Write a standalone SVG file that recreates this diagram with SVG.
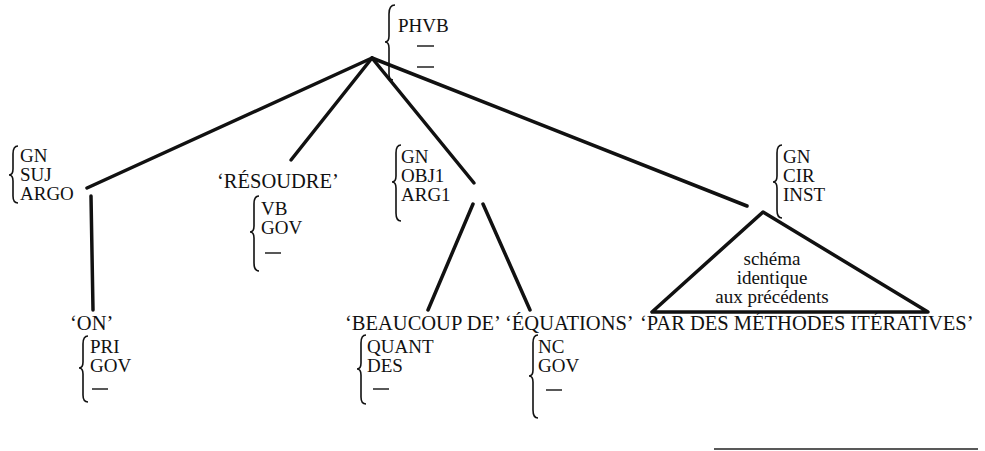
<svg xmlns="http://www.w3.org/2000/svg" width="985" height="451" viewBox="0 0 985 451">
<style>
text{font-family:"Liberation Serif","Times New Roman",serif;font-size:20.5px;fill:#111}
.s{font-size:19px}
.t{font-size:19px}
.e{stroke:#111;stroke-width:3.5;stroke-linecap:round;fill:none}
.b{stroke:#111;stroke-width:1.6;fill:none}
.d{stroke:#111;stroke-width:1.4}
</style>
<rect width="985" height="451" fill="#fff"/>
<g id="connectors">
<line class="e" x1="372" y1="58" x2="87" y2="188"/>
<line class="e" x1="372" y1="58" x2="291" y2="160"/>
<line class="e" x1="372" y1="58" x2="474" y2="183"/>
<line class="e" x1="372" y1="58" x2="747" y2="206"/>
<line class="e" x1="91" y1="196" x2="93" y2="310"/>
<line class="e" x1="473" y1="204" x2="428" y2="310"/>
<line class="e" x1="483" y1="204" x2="530" y2="310"/>
</g>
<g id="phvb">
<path class="b" d="M395,5 Q389,5 389,14 L389,36 Q389,42 385,42 Q389,42 389,48 L389,74 Q389,80 393,80"/>
<text class="s" x="398" y="32">PHVB</text>
<line class="d" x1="417" y1="46" x2="434" y2="46"/>
<line class="d" x1="417" y1="67" x2="434" y2="67"/>
</g>
<g id="gn-suj">
<path class="b" d="M18,146 Q13,146 13,154 L13,169 Q13,175 9,175 Q13,175 13,181 L13,196 Q13,203 18,203"/>
<text class="s" x="20" y="162">GN</text>
<text class="s" x="20" y="181">SUJ</text>
<text class="s" x="20" y="200">ARGO</text>
</g>
<g id="on">
<text x="70" y="330">‘ON’</text>
<path class="b" d="M88,336 Q83,336 83,344 L83,362 Q83,368 79,368 Q83,368 83,374 L83,395 Q83,402 88,402"/>
<text class="s" x="90" y="353">PRI</text>
<text class="s" x="90" y="372">GOV</text>
<line class="d" x1="92" y1="389" x2="108" y2="389"/>
</g>
<g id="resoudre">
<text x="217" y="188">‘RÉSOUDRE’</text>
<path class="b" d="M259,196 Q254,196 254,204 L254,226 Q254,232 250,232 Q254,232 254,238 L254,263 Q254,271 259,271"/>
<text class="s" x="261" y="215">VB</text>
<text class="s" x="261" y="234">GOV</text>
<line class="d" x1="265" y1="253" x2="281" y2="253"/>
</g>
<g id="gn-obj1">
<path class="b" d="M401,145 Q396,145 396,153 L396,176 Q396,182 392,182 Q396,182 396,188 L396,213 Q396,221 401,221"/>
<text class="s" x="401" y="163">GN</text>
<text class="s" x="401" y="182">OBJ1</text>
<text class="s" x="401" y="201">ARG1</text>
</g>
<g id="beaucoup">
<text x="345" y="330">‘BEAUCOUP DE’</text>
<path class="b" d="M366,335 Q361,335 361,343 L361,363 Q361,369 357,369 Q361,369 361,375 L361,397 Q361,404 366,404"/>
<text class="s" x="367" y="353">QUANT</text>
<text class="s" x="367" y="372">DES</text>
<line class="d" x1="373" y1="389" x2="389" y2="389"/>
</g>
<g id="equations">
<text x="505" y="330">‘ÉQUATIONS’</text>
<path class="b" d="M538,335 Q533,335 533,343 L533,370 Q533,376 529,376 Q533,376 533,382 L533,410 Q533,418 538,418"/>
<text class="s" x="538" y="353">NC</text>
<text class="s" x="538" y="372">GOV</text>
<line class="d" x1="546" y1="390" x2="562" y2="390"/>
</g>
<g id="gn-cir">
<path class="b" d="M782,145 Q777,145 777,153 L777,176 Q777,182 773,182 Q777,182 777,188 L777,210 Q777,218 782,218"/>
<text class="s" x="783" y="163">GN</text>
<text class="s" x="783" y="182">CIR</text>
<text class="s" x="783" y="201">INST</text>
</g>
<g id="triangle">
<polygon points="763,212 652,312 928,312" fill="none" stroke="#111" stroke-width="3.5" stroke-linejoin="round"/>
<text class="t" x="772" y="265" text-anchor="middle">schéma</text>
<text class="t" x="772" y="284" text-anchor="middle">identique</text>
<text class="t" x="772" y="303" text-anchor="middle">aux précédents</text>
</g>
<g id="par">
<text x="640" y="330">‘PAR DES MÉTHODES ITÉRATIVES’</text>
</g>
<line x1="714" y1="449" x2="978" y2="449" stroke="#222" stroke-width="1.5"/>
</svg>
